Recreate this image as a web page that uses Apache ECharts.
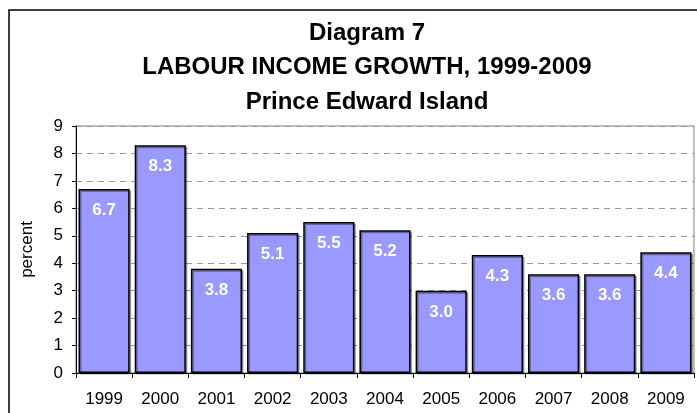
<!DOCTYPE html>
<html>
<head>
    <meta charset="UTF-8">
    <title>Labour income growth, PEI</title>
    <script src="https://cdn.jsdelivr.net/npm/echarts@6/dist/echarts.min.js"></script>
    <style>
        html, body { margin: 0; padding: 0; background: #fff; }
        #chart { width: 697px; height: 413px; }
    </style>
</head>
<body>
<div id="chart"></div>
<script type="text/javascript">
    // 数据
    var years = ['1999', '2000', '2001', '2002', '2003', '2004', '2005', '2006', '2007', '2008', '2009'];
    var growth = [6.7, 8.3, 3.8, 5.1, 5.5, 5.2, 3.0, 4.3, 3.6, 3.6, 4.4];
    var titleLines = ['Diagram 7', 'LABOUR INCOME GROWTH, 1999-2009', 'Prince Edward Island'];

    var myChart = echarts.init(document.getElementById('chart'));
    var font = 'Liberation Sans, Arial, sans-serif';

    var option = {
        animation: false,
        title: {
            text: titleLines.join('\n'),
            left: 362,
            textAlign: 'center',
            top: 11,
            textStyle: {
                fontFamily: font,
                fontWeight: 'bold',
                fontSize: 24,
                lineHeight: 34.5,
                color: '#000'
            }
        },
        graphic: [{
            type: 'rect',
            shape: { x: 9, y: 10, width: 720, height: 440 },
            style: { fill: 'none', stroke: '#000', lineWidth: 1.5 },
            silent: true
        }],
        grid: {
            left: 76,
            top: 126,
            right: 3,
            bottom: 40,
            show: true,
            borderColor: '#808080',
            borderWidth: 1
        },
        xAxis: {
            type: 'category',
            data: years,
            axisLine: { lineStyle: { color: '#000', width: 1 } },
            axisTick: { show: true, length: 5, lineStyle: { color: '#000' } },
            axisLabel: {
                fontFamily: font,
                fontSize: 17,
                color: '#000',
                margin: 18,
                interval: 0
            }
        },
        yAxis: {
            type: 'value',
            min: 0,
            max: 9,
            interval: 1,
            name: 'percent',
            nameLocation: 'middle',
            nameGap: 40,
            nameTextStyle: { fontFamily: font, fontSize: 17, color: '#000' },
            axisLine: { show: true, lineStyle: { color: '#000', width: 1 } },
            axisTick: { show: true, length: 4, lineStyle: { color: '#000' } },
            axisLabel: {
                fontFamily: font,
                fontSize: 17,
                color: '#000',
                margin: 13
            },
            splitLine: {
                show: true,
                lineStyle: { color: '#999', type: [6, 5], width: 1 }
            }
        },
        series: [{
            type: 'bar',
            data: growth,
            barCategoryGap: '9%',
            itemStyle: {
                color: '#9999ff',
                borderColor: '#000',
                borderWidth: 1.5,
                shadowColor: 'rgba(0,0,0,0.35)',
                shadowOffsetX: 1.5,
                shadowOffsetY: 1.5
            },
            label: {
                show: true,
                position: 'insideTop',
                distance: 13,
                formatter: function (p) { return p.value.toFixed(1); },
                fontFamily: font,
                fontWeight: 'bold',
                fontSize: 17,
                color: '#fff'
            }
        }]
    };
    myChart.setOption(option);
</script>
</body>
</html>
